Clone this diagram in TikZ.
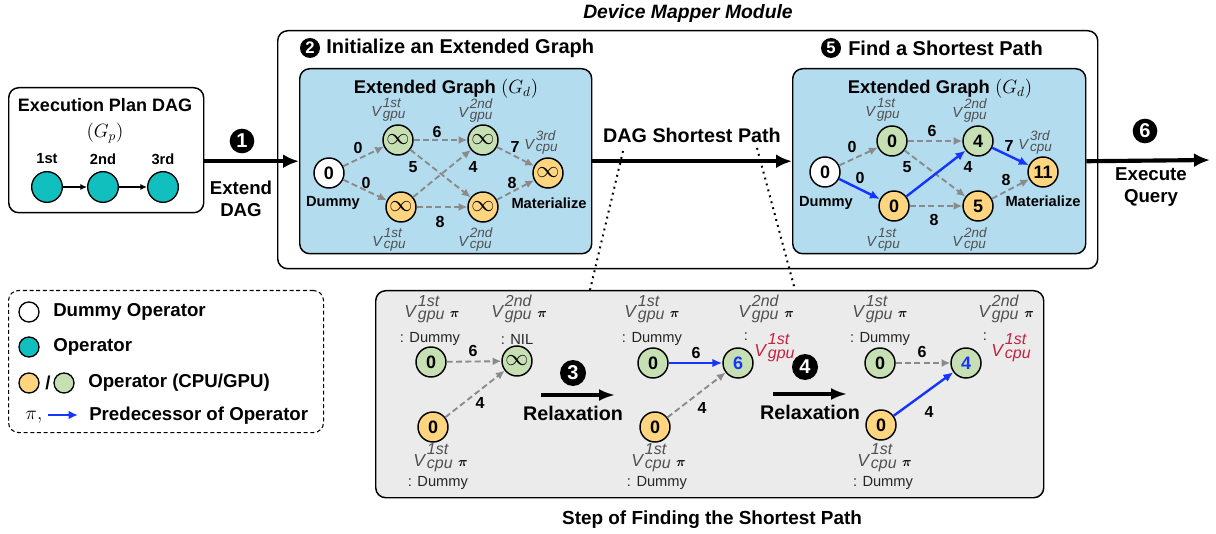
\documentclass[tikz,border=0pt]{standalone}
\usepackage{fontspec}
\setmainfont{Liberation Sans}
\usepackage{bm}
\usepackage{graphicx}
\usetikzlibrary{arrows.meta}
\definecolor{bluebox}{HTML}{B4DCEF}
\definecolor{gnode}{HTML}{C6E0B4}
\definecolor{onode}{HTML}{FFD57F}
\definecolor{tnode}{HTML}{12BFBF}
\definecolor{graybox}{HTML}{EBEBEB}
\definecolor{edgegray}{HTML}{8A8A8A}
\definecolor{pblue}{HTML}{1535FF}
\definecolor{vgray}{HTML}{505050}
\definecolor{predred}{HTML}{C8203F}
\newcommand{\Vlab}[2]{\textit{V}\kern0.6pt\lower1.5pt\vbox{\offinterlineskip\hbox{\scalebox{0.92}{\textit{#1}}}\kern0.25em\hbox{\scalebox{0.92}{\textit{#2}}}}}
\newcommand{\PIlab}{\hspace{4pt}\textcolor{black}{\fontsize{10}{10}\selectfont$\bm{\pi}$}}
\newcommand{\inft}{{\fontsize{16.5}{16.5}\selectfont$\infty$}}
\begin{document}
\begin{tikzpicture}[x=0.75pt,y=-0.75pt,
  op/.style={circle, draw=black, line width=1.1pt, minimum size=22.5pt, inner sep=0pt, font=\fontsize{13.5}{14}\selectfont\bfseries},
  gop/.style={op, fill=gnode},
  oop/.style={op, fill=onode},
  wop/.style={op, fill=white},
  tealop/.style={circle, draw=black, line width=1pt, fill=tnode, minimum size=23pt, inner sep=0pt},
  dedge/.style={draw=edgegray, line width=1.4pt, dash pattern=on 4.5pt off 2.5pt, -{Latex[length=6.5pt,width=6pt]}},
  bedge/.style={draw=pblue, line width=1.8pt, -{Latex[length=7.5pt,width=6.5pt]}},
  elab/.style={font=\fontsize{12}{13}\selectfont\bfseries, inner sep=0pt},
  vlabT/.style={text=vgray, font=\fontsize{11}{12}\selectfont, inner sep=0pt, anchor=base west},
  vlabB/.style={text=vgray, font=\fontsize{13}{14}\selectfont, inner sep=0pt, anchor=base west},
  dlab/.style={font=\fontsize{11}{12}\selectfont, text=black!85, inner sep=0pt},
  num/.style={circle, fill=black, text=white, font=\fontsize{15}{15}\selectfont\bfseries, inner sep=0pt, minimum size=18.5pt},
  hnum/.style={circle, fill=black, text=white, font=\fontsize{12.5}{13}\selectfont\bfseries, inner sep=0pt, minimum size=15pt},
  bigarrow/.style={line width=3.1pt, -{Latex[length=12pt,width=10.5pt]}},
  relarrow/.style={line width=2.3pt, -{Latex[length=12pt,width=9pt]}},
  boldtxt/.style={font=\fontsize{14}{16.5}\selectfont\bfseries, inner sep=0pt, align=center},
  gname/.style={font=\fontsize{11}{12}\selectfont\bfseries, inner sep=0pt},
  rbox/.style={draw=black, line width=1.1pt, rounded corners=7.5pt, anchor=north west, inner sep=0pt}
]
\useasboundingbox (0,0) rectangle (1216,534);

% ---------- containers ----------
\node[font=\fontsize{14.5}{16}\selectfont\bfseries\itshape] (title) at (688,14) {Device Mapper Module};
\node[rbox, minimum width=615pt, minimum height=178.5pt] (MOD) at (277,30) {};
\node[rbox, fill=bluebox, minimum width=219pt, minimum height=138.75pt] (LB) at (299,68) {};
\node[rbox, fill=bluebox, minimum width=219.75pt, minimum height=138.75pt] (RB) at (792,68) {};
\node[rbox, minimum width=146.25pt, minimum height=93.75pt] (EP) at (8,87) {};
\node[rbox, fill=graybox, minimum width=501pt, minimum height=155.25pt] (GB) at (375,290) {};
\node[rbox, dash pattern=on 3pt off 2pt, line width=0.8pt, minimum width=236.25pt, minimum height=106.5pt] (LEG) at (8,290) {};

% ---------- headings ----------
\node[hnum] (n2) at (310,48) {2};
\node[font=\fontsize{15}{16}\selectfont\bfseries, anchor=west, inner sep=0pt] (h2) at (326,48) {Initialize an Extended Graph};
\node[hnum] (n5) at (831,48) {5};
\node[font=\fontsize{15}{16}\selectfont\bfseries, anchor=west, inner sep=0pt] (h5) at (848,48) {Find a Shortest Path};

% ---------- execution plan DAG ----------
\node[font=\fontsize{13.5}{15}\selectfont\bfseries] (ept) at (105,105) {Execution Plan DAG};
\node[font=\fontsize{14}{15}\selectfont] (gp) at (105,133) {$(G_p)$};
\node[gname] (l1) at (47,159) {1st};
\node[gname] (l2) at (103,159) {2nd};
\node[gname] (l3) at (163,159) {3rd};
\node[tealop] (p1) at (47,187) {};
\node[tealop] (p2) at (103,187) {};
\node[tealop] (p3) at (163,187) {};
\draw[line width=0.8pt, -{Latex[length=5pt,width=4.5pt]}] (p1) -- (p2);
\draw[line width=0.8pt, -{Latex[length=5pt,width=4.5pt]}] (p2) -- (p3);

% ---------- big arrows ----------
\coordinate (q1) at (LB.west -| EP.east);
\draw[bigarrow] (q1) -- (LB.west);
\node[num] (n1) at (242,141) {1};
\node[boldtxt] (ext) at (241,199) {Extend\\DAG};
\draw[bigarrow] (LB.east) -- (RB.west);
\node[font=\fontsize{14.8}{16}\selectfont\bfseries] (dsp) at (692,135) {DAG Shortest Path};
\coordinate (qend) at (1210,160);
\draw[bigarrow] (RB.east) -- (qend);
\node[num] (n6) at (1145,131) {6};
\node[boldtxt] (exq) at (1151,187) {Execute\\Query};

% ---------- left extended graph ----------
\node[font=\fontsize{13.8}{15}\selectfont\bfseries] (LGt) at (446,89) {Extended Graph \mdseries$(G_d)$};
\node[wop] (Ld) at (329,173) {0};
\node[gop] (Lg1) at (398,140) {\inft};
\node[oop] (Lc1) at (401,207) {\inft};
\node[gop] (Lg2) at (483,140) {\inft};
\node[oop] (Lc2) at (483,207) {\inft};
\node[oop] (L3) at (548,173) {\inft};
\draw[dedge] (Ld) -- (Lg1);
\draw[dedge] (Ld) -- (Lc1);
\draw[dedge] (Lg1) -- (Lg2);
\draw[dedge] (Lg1) -- (Lc2);
\draw[dedge] (Lc1) -- (Lg2);
\draw[dedge] (Lc1) -- (Lc2);
\draw[dedge] (Lg2) -- (L3);
\draw[dedge] (Lc2) -- (L3);
\node[elab] (Le1) at (358,148) {0};
\node[elab] (Le2) at (366,183) {0};
\node[elab] (Le3) at (437,132) {6};
\node[elab] (Le4) at (413,167) {5};
\node[elab] (Le5) at (473,167) {4};
\node[elab] (Le6) at (440,222) {8};
\node[elab] (Le7) at (515,147) {7};
\node[elab] (Le8) at (512,183) {8};
\node[gname] (Ldn) at (333,203) {Dummy};
\node[gname] (Lmat) at (549,203) {Materialize};
\node[vlabT] (Lv1) at (371,117) {\Vlab{1st}{gpu}};
\node[vlabT] (Lv2) at (458,118) {\Vlab{2nd}{gpu}};
\node[vlabT] (Lv3) at (372,247) {\Vlab{1st}{cpu}};
\node[vlabT] (Lv4) at (458,247) {\Vlab{2nd}{cpu}};
\node[vlabT] (Lv5) at (524,150) {\Vlab{3rd}{cpu}};

% ---------- right extended graph ----------
\node[font=\fontsize{13.8}{15}\selectfont\bfseries] (RGt) at (940,89) {Extended Graph \mdseries$(G_d)$};
\node[wop] (Rd) at (825,172) {0};
\node[gop] (Rg1) at (892,141) {0};
\node[oop] (Rc1) at (894,206) {0};
\node[gop] (Rg2) at (978,141) {4};
\node[oop] (Rc2) at (978,206) {5};
\node[oop] (R3) at (1043,172) {11};
\draw[dedge] (Rd) -- (Rg1);
\draw[bedge] (Rd) -- (Rc1);
\draw[dedge] (Rg1) -- (Rg2);
\draw[dedge] (Rg1) -- (Rc2);
\draw[bedge] (Rc1) -- (Rg2);
\draw[dedge] (Rc1) -- (Rc2);
\draw[bedge] (Rg2) -- (R3);
\draw[dedge] (Rc2) -- (R3);
\node[elab] (Re1) at (852,147) {0};
\node[elab] (Re2) at (860,178) {0};
\node[elab] (Re3) at (932,131) {6};
\node[elab] (Re4) at (907,167) {5};
\node[elab] (Re5) at (968,167) {4};
\node[elab] (Re6) at (934,220) {8};
\node[elab] (Re7) at (1009,146) {7};
\node[elab] (Re8) at (1006,180) {8};
\node[gname] (Rdn) at (826,203) {Dummy};
\node[gname] (Rmat) at (1043,201) {Materialize};
\node[vlabT] (Rv1) at (865,117) {\Vlab{1st}{gpu}};
\node[vlabT] (Rv2) at (952,118) {\Vlab{2nd}{gpu}};
\node[vlabT] (Rv3) at (866,247) {\Vlab{1st}{cpu}};
\node[vlabT] (Rv4) at (952,247) {\Vlab{2nd}{cpu}};
\node[vlabT] (Rv5) at (1018,150) {\Vlab{3rd}{cpu}};

% ---------- dotted zoom lines ----------
\coordinate (dz1) at (623,151);
\coordinate (dz1b) at (590,290);
\coordinate (dz2) at (757,148);
\coordinate (dz2b) at (795,290);
\draw[line width=1.5pt, dash pattern=on 1.4pt off 3.2pt] (dz1) -- (dz1b);
\draw[line width=1.5pt, dash pattern=on 1.4pt off 3.2pt] (dz2) -- (dz2b);

% ---------- legend ----------
\node[circle, draw=black, line width=1pt, fill=white, minimum size=15pt, inner sep=0pt] (lg1) at (29,312) {};
\node[font=\fontsize{14}{15}\selectfont\bfseries, anchor=west, inner sep=0pt] (lt1) at (53,312) {Dummy Operator};
\node[circle, draw=black, line width=1pt, fill=tnode, minimum size=15pt, inner sep=0pt] (lg2) at (29,347) {};
\node[font=\fontsize{14}{15}\selectfont\bfseries, anchor=west, inner sep=0pt] (lt2) at (53,347) {Operator};
\node[circle, draw=black, line width=1pt, fill=onode, minimum size=15pt, inner sep=0pt] (lg3) at (29,383) {};
\node[font=\fontsize{14}{15}\selectfont\bfseries, inner sep=0pt] (lsl) at (48,383) {/};
\node[circle, draw=black, line width=1pt, fill=gnode, minimum size=15pt, inner sep=0pt] (lg4) at (64,383) {};
\node[font=\fontsize{14}{15}\selectfont\bfseries, anchor=west, inner sep=0pt] (lt3) at (88,383) {Operator (CPU/GPU)};
\node[font=\fontsize{15}{15}\selectfont, inner sep=0pt] (lpi) at (34,417) {$\pi,$};
\coordinate (la1) at (48,415);
\coordinate (la2) at (78,415);
\draw[draw=pblue, line width=1.8pt, -{Latex[length=7pt,width=6.5pt]}] (la1) -- (la2);
\node[font=\fontsize{14}{15}\selectfont\bfseries, anchor=west, inner sep=0pt] (lt4) at (89,416) {Predecessor of Operator};

% ---------- step panel ----------
\node[font=\fontsize{14.2}{15}\selectfont\bfseries] (gbt) at (712,520) {Step of Finding the Shortest Path};
% step a
\node[gop] (Ag1) at (431,362) {0};
\node[oop] (Ac1) at (433,427) {0};
\node[gop] (Ag2) at (517,361) {\inft};
\draw[dedge] (Ag1) -- (Ag2);
\draw[dedge] (Ac1) -- (Ag2);
\node[elab] (Ae1) at (473,351) {6};
\node[elab] (Ae2) at (480,403) {4};
\node[vlabB] (Av1) at (404,318) {\Vlab{1st}{gpu}\PIlab};
\node[dlab] (Ad1) at (430,339) {: Dummy};
\node[vlabB] (Av2) at (491,318) {\Vlab{2nd}{gpu}\PIlab};
\node[dlab] (Ad2) at (517,339) {: NIL};
\node[vlabB] (Av3) at (413,466) {\Vlab{1st}{cpu}\PIlab};
\node[dlab] (Ad3) at (438,483) {: Dummy};
\coordinate (r3s) at (541,395);
\coordinate (r3e) at (615,395);
\draw[relarrow] (r3s) -- (r3e);
\node[num, minimum size=19.5pt] (n3) at (573,373) {3};
\node[font=\fontsize{14.8}{16}\selectfont\bfseries] (rl3) at (573,413) {Relaxation};
% step b
\node[gop] (Bg1) at (653,363) {0};
\node[oop] (Bc1) at (655,427) {0};
\node[gop, text=pblue] (Bg2) at (738,363) {6};
\draw[bedge] (Bg1) -- (Bg2);
\draw[dedge] (Bc1) -- (Bg2);
\node[elab] (Be1) at (696,353) {6};
\node[elab] (Be2) at (702,408) {4};
\node[vlabB] (Bv1) at (624,318) {\Vlab{1st}{gpu}\PIlab};
\node[dlab] (Bd1) at (652,339) {: Dummy};
\node[vlabB] (Bv2) at (738,318) {\Vlab{2nd}{gpu}\PIlab};
\node[dlab] (Bd2) at (746,337) {:};
\node[vlabB, text=predred] (Bv2r) at (754,356) {\Vlab{1st}{gpu}};
\node[vlabB] (Bv3) at (631,466) {\Vlab{1st}{cpu}\PIlab};
\node[dlab] (Bd3) at (657,483) {: Dummy};
\coordinate (r4s) at (773,394);
\coordinate (r4e) at (847,394);
\draw[relarrow] (r4s) -- (r4e);
\node[num, minimum size=19.5pt] (n4) at (805,367) {4};
\node[font=\fontsize{14.8}{16}\selectfont\bfseries] (rl4) at (810,412) {Relaxation};
% step c
\node[gop] (Cg1) at (880,363) {0};
\node[oop] (Cc1) at (881,425) {0};
\node[gop, text=pblue] (Cg2) at (966,363) {4};
\draw[dedge] (Cg1) -- (Cg2);
\draw[bedge] (Cc1) -- (Cg2);
\node[elab] (Ce1) at (922,352) {6};
\node[elab] (Ce2) at (929,412) {4};
\node[vlabB] (Cv1) at (852,318) {\Vlab{1st}{gpu}\PIlab};
\node[dlab] (Cd1) at (880,339) {: Dummy};
\node[vlabB] (Cv2) at (978,318) {\Vlab{2nd}{gpu}\PIlab};
\node[dlab] (Cd2) at (985,337) {:};
\node[vlabB, text=predred] (Cv2r) at (991,356) {\Vlab{1st}{cpu}};
\node[vlabB] (Cv3) at (857,466) {\Vlab{1st}{cpu}\PIlab};
\node[dlab] (Cd3) at (883,483) {: Dummy};
\end{tikzpicture}
\end{document}
